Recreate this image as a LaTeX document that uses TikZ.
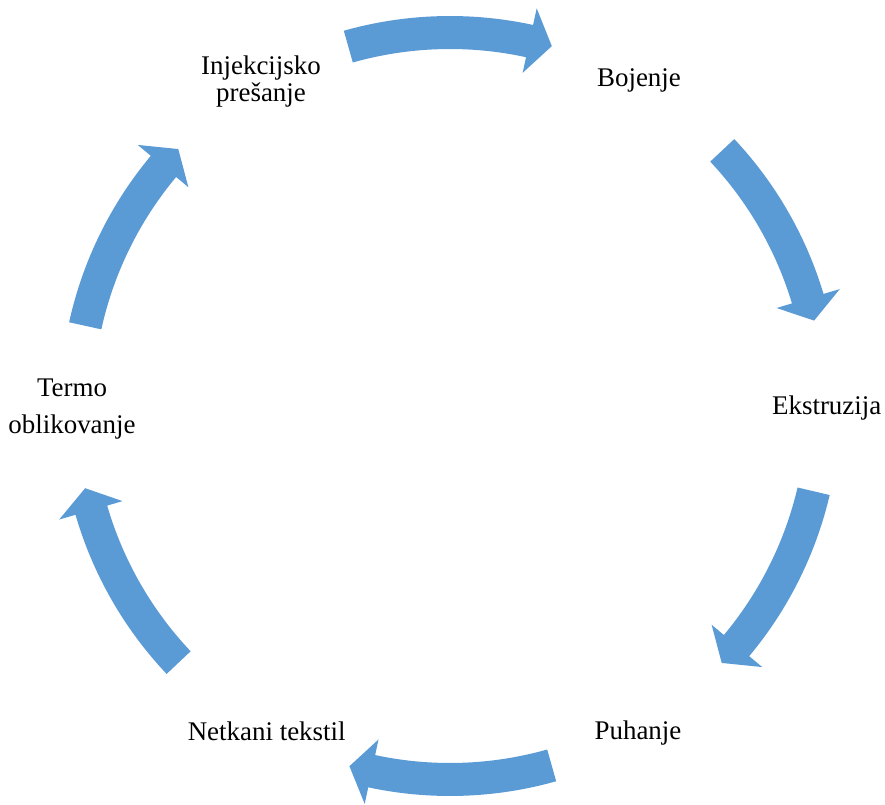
\documentclass[tikz,border=0pt]{standalone}
\usepackage{fontspec}
\setmainfont{Liberation Serif}
\definecolor{arrowblue}{HTML}{5B9BD5}
\newcommand{\cyclearrow}[2]{%
  \pgfmathsetmacro{\baseang}{#2+3.5}%
  \fill[arrowfill] (#1:390) arc[start angle=#1, end angle=\baseang, radius=390]
    -- (\baseang:407) -- (#2:374) -- (\baseang:341) -- (\baseang:357)
    arc[start angle=\baseang, end angle=#1, radius=357] -- cycle;}
\begin{document}
\begin{tikzpicture}[x=1pt,y=1pt,scale=0.75,
  arrowfill/.style={fill=arrowblue},
  label/.style={inner sep=0pt, anchor=base, align=center, font=\fontsize{20.2}{20.5}\selectfont}]
\useasboundingbox (0,0) rectangle (885,804);
\begin{scope}[shift={(450,398)}]
  \cyclearrow{105.8}{74.2}
  \cyclearrow{43.2}{13.2}
  \cyclearrow{-13.2}{-43.4}
  \cyclearrow{-74.2}{-105.6}
  \cyclearrow{-136.6}{-167.3}
  \cyclearrow{167.6}{136.6}
\end{scope}
\node[label] (inj) at (261,702.3) {Injekcijsko\\prešanje};
\node[label] (boj) at (639,717.3) {Bojenje};
\node[label] (eks) at (826.7,389.7) {Ekstruzija};
\node[label] (puh) at (638,64.7) {Puhanje};
\node[label] (net) at (266.7,64) {Netkani tekstil};
\node[label] (ter) at (72,370.7) {Termo\\[7.25pt]oblikovanje};
\end{tikzpicture}
\end{document}
